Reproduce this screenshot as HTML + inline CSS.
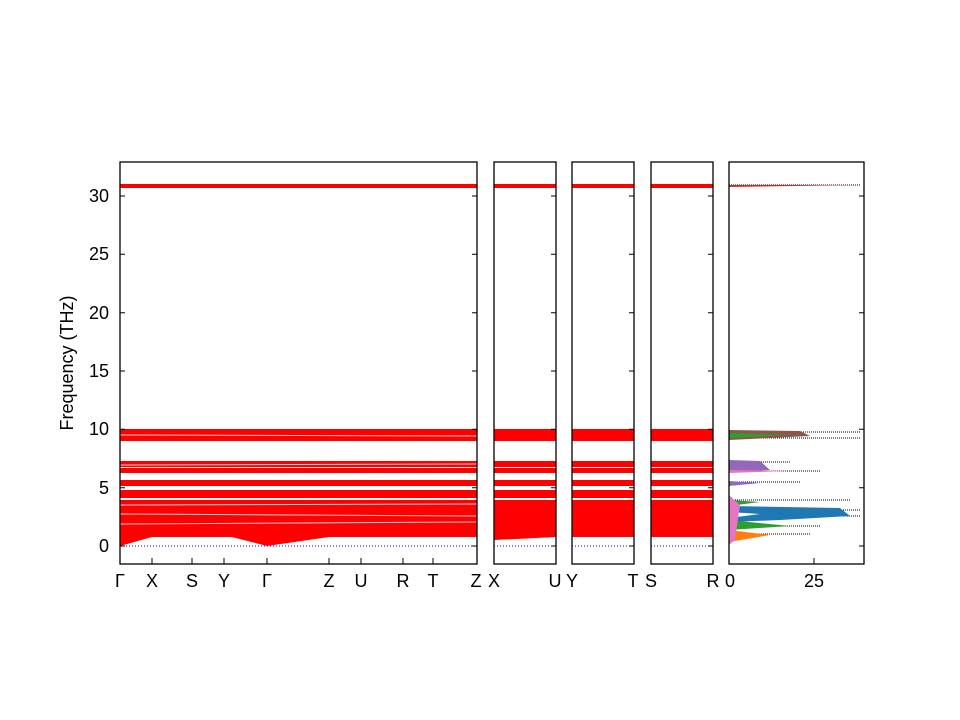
<!DOCTYPE html><html><head><meta charset="utf-8"><style>body{margin:0;background:#fff}svg{display:block}text{font-family:"Liberation Sans","DejaVu Sans",sans-serif;font-size:18px;fill:#000}</style></head><body>
<svg width="960" height="720" xmlns="http://www.w3.org/2000/svg">
<defs>
<g id="bands">
<rect x="0" y="184" width="1" height="4" fill="red"/>
<rect x="0" y="429" width="1" height="12" fill="red"/>
<rect x="0" y="461" width="1" height="6" fill="red"/>
<rect x="0" y="468" width="1" height="5" fill="red"/>
<rect x="0" y="480" width="1" height="6" fill="red"/>
<rect x="0" y="490" width="1" height="8" fill="red"/>
<rect x="0" y="500" width="1" height="37" fill="red"/>
</g>
</defs>
<g>
<use href="#bands" transform="translate(120,0) scale(357,1)"/>
<use href="#bands" transform="translate(494,0) scale(62,1)"/>
<use href="#bands" transform="translate(572,0) scale(62,1)"/>
<use href="#bands" transform="translate(651,0) scale(62,1)"/>
</g>
<g stroke="#fff" stroke-width="1" opacity="0.8">
<line x1="120" y1="505" x2="477" y2="504"/><line x1="120" y1="514" x2="477" y2="516"/><line x1="120" y1="524" x2="477" y2="522"/>
<line x1="120" y1="435" x2="477" y2="436"/><line x1="120" y1="465" x2="477" y2="464"/>
</g>
<polygon points="120,546 152,537 192,533 224,535 267,546 329,537 477,537 477,536 120,536" fill="red"/>
<polygon points="494,540 556,537 556,536 494,536" fill="red"/>
<line x1="120" y1="546" x2="477" y2="546" stroke="blue" stroke-dasharray="1,2"/>
<line x1="494" y1="546" x2="556" y2="546" stroke="blue" stroke-dasharray="1,2"/>
<line x1="572" y1="546" x2="634" y2="546" stroke="blue" stroke-dasharray="1,2"/>
<line x1="651" y1="546" x2="713" y2="546" stroke="blue" stroke-dasharray="1,2"/>
<g stroke="#000" stroke-dasharray="1,1" stroke-width="1">
<line x1="729" y1="185" x2="860" y2="185"/><line x1="729" y1="432" x2="860" y2="432"/><line x1="729" y1="438" x2="860" y2="438"/>
<line x1="729" y1="462" x2="790" y2="462"/><line x1="729" y1="471" x2="820" y2="471"/><line x1="729" y1="482" x2="800" y2="482"/>
<line x1="729" y1="500" x2="850" y2="500"/><line x1="729" y1="510" x2="860" y2="510"/><line x1="729" y1="516" x2="860" y2="516"/>
<line x1="729" y1="526" x2="820" y2="526"/><line x1="729" y1="534" x2="810" y2="534"/>
</g>
<polygon points="729,430 800,431 810,436 729,440" fill="#8c564b"/>
<polygon points="729,433 790,435 729,438" fill="#2ca02c"/>
<polygon points="729,460 760,461 770,470 729,472" fill="#9467bd"/>
<polygon points="729,470 790,471 729,473" fill="#e377c2"/>
<polygon points="729,481 760,483 729,486" fill="#9467bd"/>
<polygon points="729,500 760,502 729,506" fill="#2ca02c"/>
<polygon points="729,506 840,508 850,516 780,520 729,522" fill="#1f77b4"/>
<polygon points="729,512 760,514 729,518" fill="#fff"/>
<polygon points="729,520 790,526 729,530" fill="#2ca02c"/>
<polygon points="729,530 770,535 729,542" fill="#ff7f0e"/>
<polygon points="729,495 740,505 735,540 729,545" fill="#e377c2"/>
<polygon points="729,185 860,185 729,187" fill="#d62728"/>
<g fill="none" stroke="#000" stroke-width="1.3">
<rect x="120" y="162" width="357" height="402"/>
<rect x="494" y="162" width="62" height="402"/>
<rect x="572" y="162" width="62" height="402"/>
<rect x="651" y="162" width="62" height="402"/>
<rect x="729" y="162" width="135" height="402"/>
</g>
<g stroke="#000" stroke-width="1">
<path d="M120 546h5M120 487.7h5M120 429.3h5M120 371h5M120 312.7h5M120 254.3h5M120 196h5"/>
<path d="M477 546h-5M477 487.7h-5M477 429.3h-5M477 371h-5M477 312.7h-5M477 254.3h-5M477 196h-5"/>
<path d="M556 546h-5M556 487.7h-5M556 429.3h-5M556 371h-5M556 312.7h-5M556 254.3h-5M556 196h-5"/>
<path d="M634 546h-5M634 487.7h-5M634 429.3h-5M634 371h-5M634 312.7h-5M634 254.3h-5M634 196h-5"/>
<path d="M713 546h-5M713 487.7h-5M713 429.3h-5M713 371h-5M713 312.7h-5M713 254.3h-5M713 196h-5"/>
<path d="M864 546h-5M864 487.7h-5M864 429.3h-5M864 371h-5M864 312.7h-5M864 254.3h-5M864 196h-5"/>
<path d="M152 564v-6M192 564v-6M224 564v-6M267 564v-6M329 564v-6M361 564v-6M403 564v-6M433 564v-6M814 564v-6"/>
</g>
<g text-anchor="end">
<text x="109" y="552">0</text><text x="109" y="494">5</text><text x="109" y="435">10</text><text x="109" y="377">15</text><text x="109" y="319">20</text><text x="109" y="260">25</text><text x="109" y="202">30</text>
</g>
<g text-anchor="middle">
<text x="120" y="587">Γ</text><text x="152" y="587">X</text><text x="192" y="587">S</text><text x="224" y="587">Y</text><text x="267" y="587">Γ</text><text x="329" y="587">Z</text><text x="361" y="587">U</text><text x="403" y="587">R</text><text x="433" y="587">T</text><text x="476" y="587">Z</text>
<text x="494" y="587">X</text><text x="555" y="587">U</text><text x="572" y="587">Y</text><text x="633" y="587">T</text><text x="651" y="587">S</text><text x="713" y="587">R</text>
<text x="730" y="587">0</text><text x="814" y="587">25</text>
</g>
<text transform="translate(73,363) rotate(-90)" text-anchor="middle">Frequency (THz)</text>
</svg>
</body></html>
